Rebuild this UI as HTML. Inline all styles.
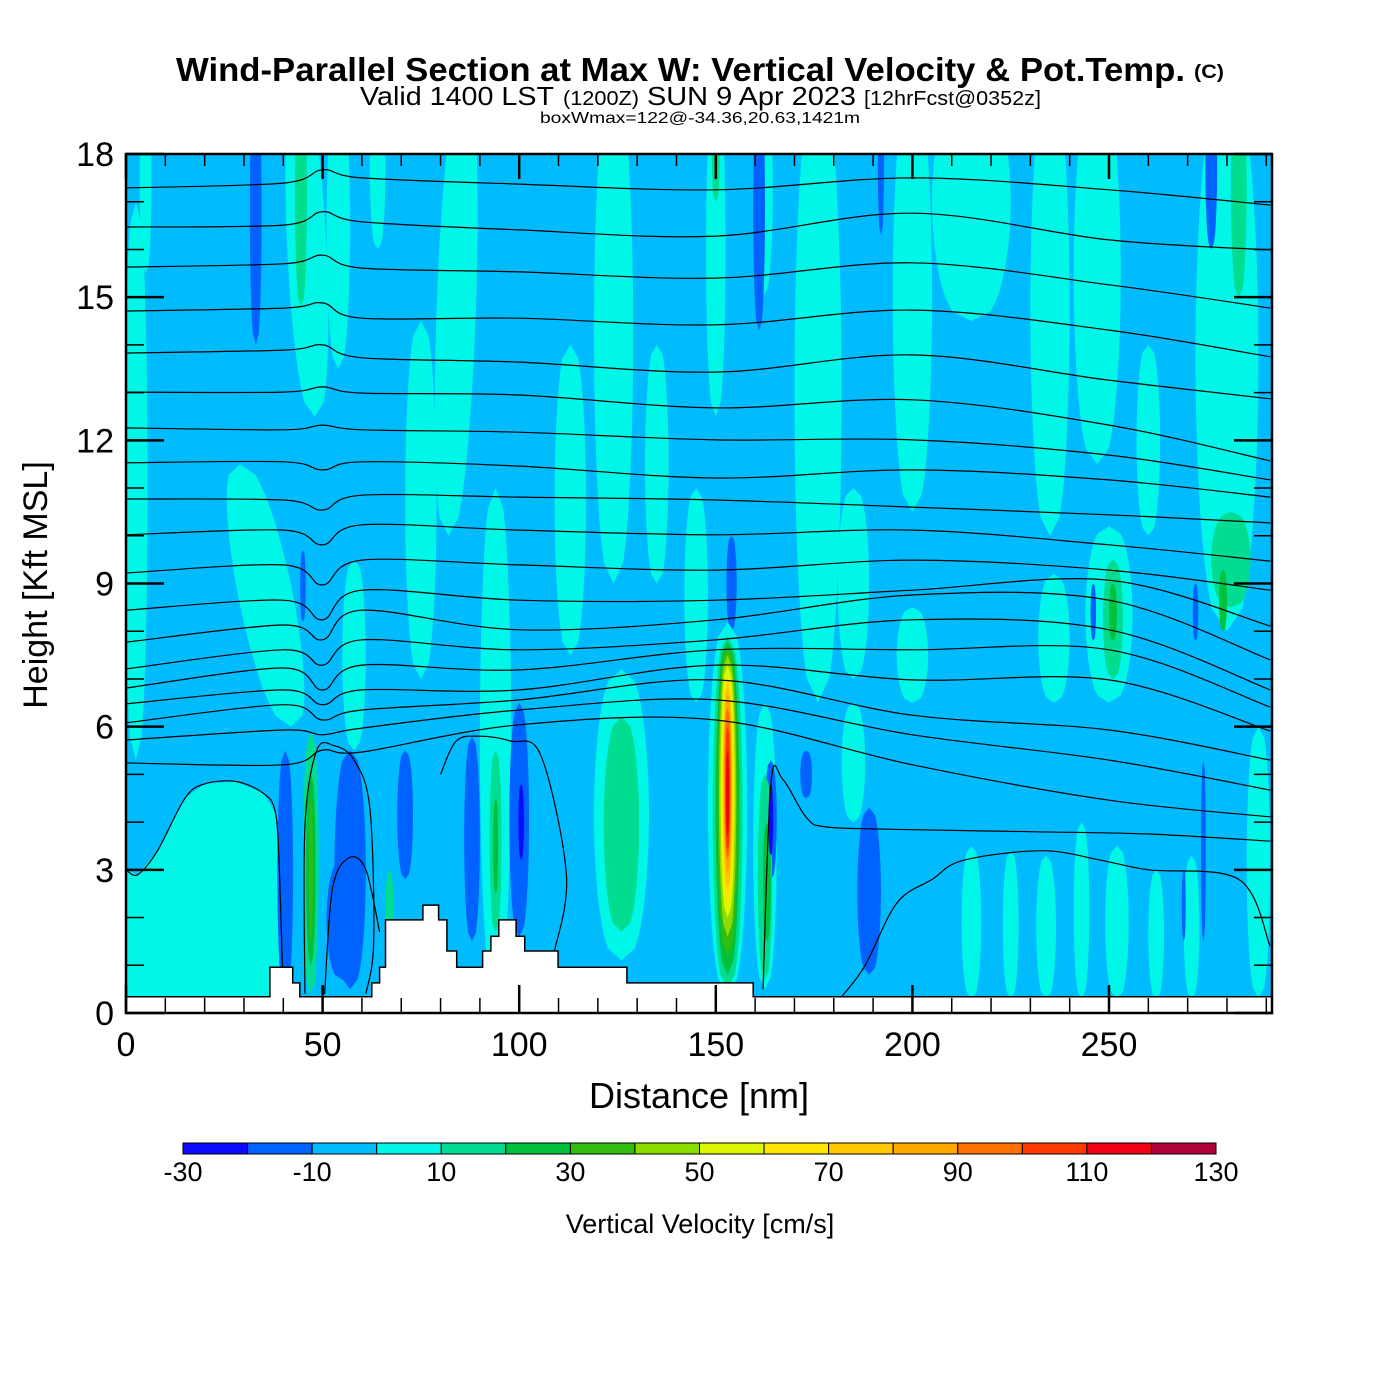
<!DOCTYPE html>
<html><head><meta charset="utf-8"><title>Wind-Parallel Section</title>
<style>html,body{margin:0;padding:0;background:#fff}svg{display:block}text{font-family:"Liberation Sans",Arial,sans-serif}</style></head>
<body>
<svg id="chart" width="1400" height="1400" viewBox="0 0 1400 1400" xmlns="http://www.w3.org/2000/svg">
<rect x="0" y="0" width="1400" height="1400" fill="#fff"/>
<g>
<text x="176" y="81" font-size="33" font-weight="bold" textLength="1009" lengthAdjust="spacingAndGlyphs">Wind-Parallel Section at Max W: Vertical Velocity &amp; Pot.Temp.</text>
<text x="1194" y="78" font-size="19" font-weight="bold" textLength="30" lengthAdjust="spacingAndGlyphs">(C)</text>
</g>
<g>
<text x="360" y="105" font-size="26" textLength="194" lengthAdjust="spacingAndGlyphs">Valid 1400 LST</text>
<text x="563" y="105" font-size="20" textLength="76" lengthAdjust="spacingAndGlyphs">(1200Z)</text>
<text x="647" y="105" font-size="26" textLength="209" lengthAdjust="spacingAndGlyphs">SUN 9 Apr 2023</text>
<text x="864" y="105" font-size="20" textLength="177" lengthAdjust="spacingAndGlyphs">[12hrFcst@0352z]</text>
</g>
<text x="540" y="123" font-size="16" textLength="320" lengthAdjust="spacingAndGlyphs">boxWmax=122@-34.36,20.63,1421m</text>
<defs><clipPath id="plotclip"><rect x="126" y="154" width="1146" height="859"/></clipPath></defs>
<g id="plot" clip-path="url(#plotclip)"></g>
<g id="axes"></g>
<g id="cbar"></g>
<text x="699" y="1108" font-size="36" text-anchor="middle">Distance [nm]</text>
<text transform="translate(47,585) rotate(-90)" font-size="34" text-anchor="middle">Height [Kft MSL]</text>
<text x="700" y="1233" font-size="27" text-anchor="middle">Vertical Velocity [cm/s]</text>
</svg>
<script>
// ---- data ----
const levelEdges = [-30,-20,-10,0,10,20,30,40,50,60,70,80,90,100,110,120,130];
const levelColors = ["#0a0aff","#0062ff","#00bcff","#00f6e6","#00dc90","#00c03c","#32bc10","#8cdc00","#dcf800","#ffe600","#ffc800","#ffa800","#ff7000","#ff3800","#f00010","#b00038"];
const cbarLabels = [-30,-10,10,30,50,70,90,110,130];
const xTicks = [0,50,100,150,200,250];
const yTicks = [0,3,6,9,12,15,18];
const backgroundW = -5;
const regionX = [0,0,3,8,15,20,28,35,38,39,40,40];
const regionY = [0.3,3.0,2.9,3.4,4.5,4.8,4.85,4.6,4.2,3.0,1.0,0.3];
const regionW = 5;
const streakXTop = [2.5,5,29,44,54,58,64,75,86,94,113,124,126,135,145,150,162,162.5,176,185,185,200,200,215,235,236,247,250,260,280,215,225,234,243,252,262,271,288,
  33,40.5,57,55,71,88,100,45,154,161,164,173,189,192,276,246,272,269,274,
  44.5,47,47,47,94,94,67,126,150,162.5,163,251,251,281,279,283,100.5,164,
  153,153,153,153,153,153,153,153,153,153,153,153];
const streakXBot = [2.5,5,42,48,54,58,64,75,82,94,113,124,126,135,145,150,162,162.5,176,185,185,200,200,215,235,236,247,250,260,280,215,225,234,243,252,262,271,288,
  33,40.5,57,55,71,88,100,45,154,161,164,173,189,192,276,246,272,269,274,
  44.5,47,47,47,94,94,67,126,150,162.5,163,251,251,281,279,283,100.5,164,
  153,153,153,153,153,153,153,153,153,153,153,153];
const streakTop = [17,19.5,11.5,19.5,19.5,9.5,19.5,14.5,19.5,11,14,19.5,7.2,14,11,19.5,19.5,6.5,19.5,11,6.5,19.5,8.5,19.5,19.5,9.2,19.5,10.2,14,19.5,3.5,3.4,3.3,4,3.5,3,3.3,6,
  19.5,5.5,5.5,3.2,5.5,5.8,6.5,9.7,10,19.5,5.3,5.5,4.3,19.5,19.5,9,9,3,5.3,
  19.5,5.9,5,4.5,5.5,4.5,3,6.2,19,5,4,9.5,9,10.5,9.3,19.5,4.8,4.8,
  8.2,7.9,7.8,7.7,7.5,7.3,7.1,6.9,6.7,6.4,6,5.5];
const streakBot = [5.3,15.5,6,12.5,13.5,5.5,16,7,10,0.5,7.5,9,1.1,9,6.5,12.5,15,0.5,6.5,7,4,10.5,6.5,14.5,10,6.5,11.5,6.5,10,8,0.3,0.3,0.3,0.3,0.3,0.3,0.3,0.3,
  14,0.3,0.5,0.7,2.8,1.5,1.6,8.2,8,14.3,2.8,4.5,0.8,16.3,16,7.8,7.8,1.5,1.5,
  14.8,0.4,1,1.5,1.7,2.5,1.5,1.7,17,0.7,1.5,7,7.8,8.5,8,15,3.2,3.3,
  0.4,0.5,0.8,1.2,1.6,2,2.3,2.6,2.9,3.2,3.4,3.7];
const streakHalfW = [3,1.5,7,5,3,3,2,4,5,4,4,5,7,3,3,2.5,2.5,3,6,4,3,5,4,10,5,4,6,6,3,8,2.5,2,2.5,2,3,2,2,3,
  1.5,2,4,4,2,2,2.5,0.7,1.3,1.5,1.5,1.5,3,0.8,1.5,0.7,0.7,0.5,0.6,
  1.5,2,1.2,0.5,1.5,0.6,1,4.5,1,1.8,1,2.5,1,5,1,2,0.7,0.6,
  5,3.8,3,2.6,2.2,1.8,1.5,1.2,1.0,0.8,0.6,0.4];
const streakW = [5,5,5,5,5,5,5,5,5,5,5,5,5,5,5,5,5,5,5,5,5,5,5,5,5,5,5,5,5,5,5,5,5,5,5,5,5,5,
  -15,-15,-15,-15,-15,-15,-15,-15,-15,-15,-15,-15,-15,-15,-15,-15,-15,-15,-15,
  15,15,25,35,15,25,15,15,15,15,25,15,25,15,25,15,-25,-25,
  5,15,25,35,45,55,65,75,85,95,105,115];
const contourNodes = [0,40,50,60,100,150,200,250,291];
const contourHeights = [
 [17.29,17.39,17.67,17.50,17.37,17.25,17.50,17.25,16.93],
 [16.47,16.51,16.79,16.58,16.41,16.28,16.76,16.20,15.99],
 [15.63,15.70,15.88,15.61,15.53,15.40,15.72,15.26,14.77],
 [14.71,14.77,14.88,14.56,14.56,14.42,14.73,14.31,13.75],
 [13.83,13.89,14.00,13.73,13.64,13.43,13.79,13.26,12.87],
 [13.01,13.01,13.12,12.99,12.95,12.68,12.85,12.32,11.57],
 [12.26,12.22,12.32,12.22,12.17,12.01,12.01,11.69,11.17],
 [11.53,11.55,11.38,11.55,11.46,11.21,11.38,11.17,10.81],
 [10.77,10.75,10.54,10.85,10.81,10.75,10.60,10.44,10.27],
 [10.02,10.12,9.81,10.23,10.12,10.02,10.12,9.81,9.47],
 [9.22,9.39,8.97,9.49,9.39,9.28,9.49,9.28,8.86],
 [8.44,8.65,8.24,8.86,8.65,8.65,8.86,9.07,8.11],
 [7.77,8.13,7.82,8.44,8.03,8.24,8.76,8.65,7.40],
 [7.21,7.61,7.29,7.82,7.61,7.82,8.24,8.03,6.77],
 [6.81,7.23,6.77,7.29,7.19,7.61,7.61,7.61,6.41],
 [6.48,6.77,6.46,6.77,6.77,7.29,6.98,6.98,5.91],
 [6.08,6.46,6.14,6.35,6.56,6.98,6.24,5.93,5.30],
 [5.72,5.93,5.83,5.97,6.35,6.56,5.83,5.30,4.67],
 [5.24,5.20,5.51,5.47,6.04,6.14,5.20,4.46,4.11]
];
const extraContourX = [
 [0,3,8,15,20,28,35,38,39,40],
 [50.5,52.5,56.7,61,64.5],
 [80,84,90,97.7,105.5,112,109],
 [45.5,45.5,48.5,53,58,62,63,61],
 [162,164,167,173,178,195,230,260,291],
 [182,188,196,205,213,233,248,260,283,291]
];
const extraContourY = [
 [3.0,2.9,3.4,4.5,4.8,4.85,4.6,4.2,3.0,0.3],
 [0.4,2.6,3.25,3.0,1.7],
 [5.0,5.7,5.8,5.7,5.4,2.9,1.3],
 [0.4,3.9,5.5,5.6,5.3,4.3,1.5,0.4],
 [0.5,4.8,4.9,4.1,3.9,3.85,3.8,3.75,3.6],
 [0.34,1.0,2.3,2.8,3.2,3.4,3.2,3.0,2.8,1.4]
];
const terrainX = [0,36.6,36.6,42.4,42.4,44.2,44.2,62.5,62.5,64.5,64.5,66,66,67.9,67.9,75.5,75.5,79.5,79.5,81.6,81.6,84.1,84.1,90.7,90.7,92.8,92.8,94.8,94.8,99.2,99.2,101.4,101.4,109.9,109.9,127.4,127.4,159.5,159.5,291.5];
const terrainY = [0.34,0.34,0.96,0.96,0.63,0.63,0.34,0.34,0.63,0.63,0.96,0.96,1.95,1.95,1.95,1.95,2.26,2.26,1.95,1.95,1.3,1.3,0.96,0.96,1.3,1.3,1.61,1.61,1.95,1.95,1.61,1.61,1.3,1.3,0.96,0.96,0.63,0.63,0.34,0.34];
// ---- scales ----
const X0=126,X1=1272,Y0=1013,Y1=154,XMAX=291.45,YMAX=18;
const sx = v => X0 + v*(X1-X0)/XMAX;
const sy = v => Y0 - v*(Y0-Y1)/YMAX;
const NS="http://www.w3.org/2000/svg";
function mk(tag, attrs, parent){const e=document.createElementNS(NS,tag);for(const k in attrs)e.setAttribute(k,attrs[k]);parent.appendChild(e);return e;}
function colorFor(w){for(let i=0;i<levelColors.length;i++){if(w<levelEdges[i+1])return levelColors[i];}return levelColors[levelColors.length-1];}
function smooth(pts){let d="M"+pts[0][0].toFixed(1)+","+pts[0][1].toFixed(1);
 for(let i=0;i<pts.length-1;i++){const p0=pts[Math.max(i-1,0)],p1=pts[i],p2=pts[i+1],p3=pts[Math.min(i+2,pts.length-1)];
  const c1=[p1[0]+(p2[0]-p0[0])/6,p1[1]+(p2[1]-p0[1])/6],c2=[p2[0]-(p3[0]-p1[0])/6,p2[1]-(p3[1]-p1[1])/6];
  d+=" C"+c1[0].toFixed(1)+","+c1[1].toFixed(1)+" "+c2[0].toFixed(1)+","+c2[1].toFixed(1)+" "+p2[0].toFixed(1)+","+p2[1].toFixed(1);}
 return d;}
const plot=document.getElementById('plot');
const bg=mk('rect',{x:X0,y:Y1,width:X1-X0,height:Y0-Y1,fill:colorFor(backgroundW)},plot);


let rp=regionX.map((x,i)=>sx(x).toFixed(1)+","+sy(regionY[i]).toFixed(1)).join(" ");
const reg=mk('polygon',{points:rp,fill:colorFor(regionW)},plot);


for(let i=0;i<streakW.length;i++){
 const N=24,L=[],R=[];
 for(let j=0;j<=N;j++){const t=j/N;const k=streakTop[i]+(streakBot[i]-streakTop[i])*t;const xc=streakXTop[i]+(streakXBot[i]-streakXTop[i])*t;
  const w=streakHalfW[i]*Math.pow(Math.sin(Math.PI*t),0.35);
  L.push([sx(xc-w),sy(k)]);R.push([sx(xc+w),sy(k)]);}
 const pts=L.concat(R.reverse());
 const p=mk('polygon',{points:pts.map(q=>q[0].toFixed(1)+","+q[1].toFixed(1)).join(" "),fill:colorFor(streakW[i])},plot);
 
 
}
for(let c=0;c<contourHeights.length;c++){
 const pts=contourNodes.map((x,i)=>[sx(x),sy(contourHeights[c][i])]);
 const p=mk('path',{d:smooth(pts),fill:"none",stroke:"#000","stroke-width":1.2},plot);
 
 
}
for(let c=0;c<extraContourX.length;c++){
 const pts=extraContourX[c].map((x,i)=>[sx(x),sy(extraContourY[c][i])]);
 const p=mk('path',{d:smooth(pts),fill:"none",stroke:"#000","stroke-width":1.2},plot);
 
 
}
let tp=terrainX.map((x,i)=>sx(x).toFixed(1)+","+sy(terrainY[i]).toFixed(1)).join(" ")+" "+sx(XMAX).toFixed(1)+","+Y0+" "+X0+","+Y0;
const ter=mk('polygon',{points:tp,fill:"#fff",stroke:"#000","stroke-width":1.5},plot);


const ax=document.getElementById('axes');
const frame=mk('rect',{x:X0,y:Y1,width:X1-X0,height:Y0-Y1,fill:"none",stroke:"#000","stroke-width":2.5},ax);


for(let v=0;v<=290;v+=10){const major=v%50===0;const x=sx(v);
 const t1=mk('line',{x1:x,x2:x,y1:Y0,y2:Y0-(major?28:15),stroke:"#000","stroke-width":major?2.5:1.5},ax);
 
 
 const t2=mk('line',{x1:x,x2:x,y1:Y1,y2:Y1+(major?25:12),stroke:"#000","stroke-width":major?2.5:1.5},ax);
 
 }
for(const v of xTicks){const t=mk('text',{x:sx(v),y:1056,"font-size":34,"text-anchor":"middle"},ax);t.textContent=v;
 
 }
for(let v=0;v<=18;v++){const major=v%3===0;const y=sy(v);
 const t1=mk('line',{x1:X0,x2:X0+(major?38:18),y1:y,y2:y,stroke:"#000","stroke-width":major?2.5:1.5},ax);
 
 
 const t2=mk('line',{x1:X1,x2:X1-(major?38:18),y1:y,y2:y,stroke:"#000","stroke-width":major?2.5:1.5},ax);
 
 }
for(const v of yTicks){const t=mk('text',{x:114,y:sy(v)+12,"font-size":34,"text-anchor":"end"},ax);t.textContent=v;
 
 }
const cb=document.getElementById('cbar');
const CB0=183,CB1=1216,CBY=1143,CBH=11;
const cw=(CB1-CB0)/levelColors.length;
levelColors.forEach((col,i)=>{const r=mk('rect',{x:CB0+i*cw,y:CBY,width:cw,height:CBH,fill:col,stroke:"#000","stroke-width":1},cb);
 
 });
const cs=v=>CB0+(v-levelEdges[0])/(levelEdges[levelEdges.length-1]-levelEdges[0])*(CB1-CB0);
for(const v of cbarLabels){const t=mk('text',{x:cs(v),y:1181,"font-size":27,"text-anchor":"middle"},cb);t.textContent=v;
 
 }
</script>
</body></html>
